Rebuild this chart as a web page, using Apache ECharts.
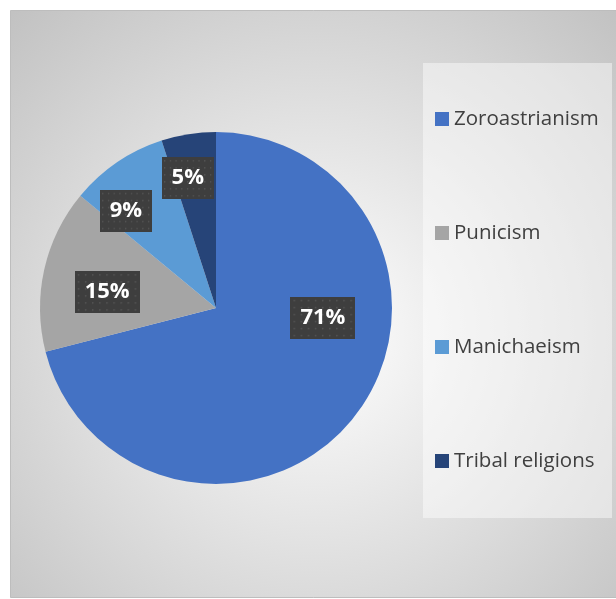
<!DOCTYPE html>
<html>
<head>
<meta charset="utf-8">
<script src="https://cdn.jsdelivr.net/npm/echarts@6/dist/echarts.min.js"></script>
<style>
  html, body { margin: 0; padding: 0; background: #ffffff; }
  #chart-1 { width: 616px; height: 599px; }
</style>
</head>
<body>
<div id="chart-1"></div>
<script>
/************************        Religions share pie                       **************************/

var categories = ['Zoroastrianism', 'Punicism', 'Manichaeism', 'Tribal religions'];
var shares = [71, 15, 9, 5];
var colors = ['#4472C4', '#A5A5A5', '#5B9BD5', '#264478'];
// shift of each data label from the default inside spot
var labelShift = [[35, -46], [-20, 4], [-39, -22], [-14, -40]];

// dotted dark texture for the label boxes
var tex = document.createElement('canvas');
tex.width = 64;
tex.height = 42;
var ctx = tex.getContext('2d');
ctx.fillStyle = '#3e3e3e';
ctx.fillRect(0, 0, 64, 42);
ctx.fillStyle = '#565656';
for (var yy = 3; yy < 42; yy += 7) {
    for (var xx = 3; xx < 64; xx += 7) {
        ctx.fillRect(xx, yy, 1.5, 1.5);
    }
}

var dom = document.getElementById("chart-1");
var myChart = echarts.init(dom, null, {renderer: 'canvas'});
var option = null;
option = {
    animation: false,
    graphic: [
        {
            type: 'rect',
            z: -10,
            silent: true,
            shape: {x: 10.5, y: 10.5, width: 610, height: 587},
            style: {
                fill: {
                    type: 'radial', x: 0.5, y: 0.55, r: 0.75,
                    colorStops: [
                        {offset: 0, color: '#ffffff'},
                        {offset: 1, color: '#c2c2c2'}
                    ]
                },
                stroke: '#bdbdbd',
                lineWidth: 1
            }
        }
    ],
    legend: {
        orient: 'vertical',
        left: 423,
        top: 63,
        padding: [44, 10, 45, 12],
        itemGap: 90,
        itemWidth: 14,
        itemHeight: 14,
        icon: 'rect',
        backgroundColor: 'rgba(255,255,255,0.45)',
        textStyle: {
            color: '#404040',
            fontFamily: 'Open Sans',
            fontSize: 20.5,
            lineHeight: 24,
            width: 148
        },
        data: categories
    },
    series: [
        {
            type: 'pie',
            center: [216, 308],
            radius: 176,
            startAngle: 90,
            clockwise: true,
            avoidLabelOverlap: false,
            color: colors,
            label: {
                show: true,
                position: 'inside',
                formatter: '{c}%',
                color: '#ffffff',
                fontFamily: 'Open Sans',
                fontWeight: 'bold',
                fontSize: 22,
                lineHeight: 26,
                padding: [8, 10, 8, 10],
                backgroundColor: {image: tex},
                shadowColor: 'rgba(0,0,0,0.55)',
                shadowBlur: 7,
                shadowOffsetX: 3,
                shadowOffsetY: 4
            },
            labelLine: {show: false},
            labelLayout: function (params) {
                var s = labelShift[params.dataIndex];
                return {dx: s[0], dy: s[1]};
            },
            emphasis: {disabled: true},
            data: categories.map(function (name, i) {
                return {name: name, value: shares[i]};
            })
        }
    ]
};

myChart.setOption(option);
</script>
</body>
</html>
